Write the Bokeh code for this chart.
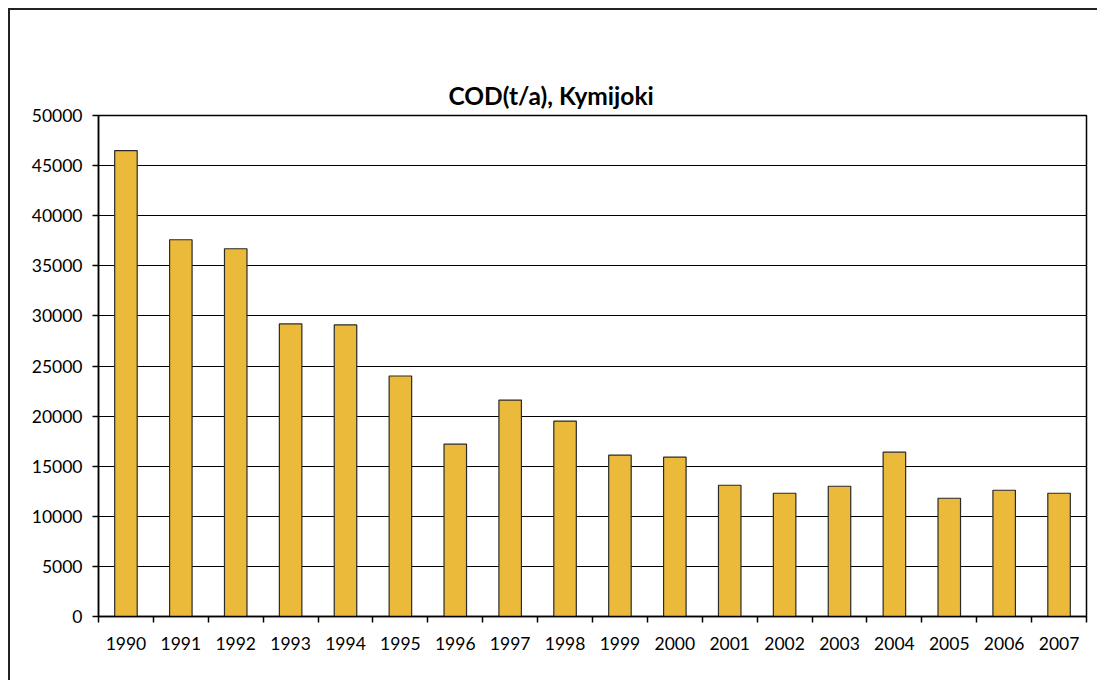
from bokeh.plotting import figure
from bokeh.models import FixedTicker, Range1d, ColumnDataSource
from bokeh.embed import file_html
from bokeh.resources import INLINE

years = ["1990", "1991", "1992", "1993", "1994", "1995", "1996", "1997", "1998",
         "1999", "2000", "2001", "2002", "2003", "2004", "2005", "2006", "2007"]
cod = [46500, 37600, 36700, 29200, 29100, 24000, 17200, 21600, 19500,
       16100, 15900, 13100, 12300, 13000, 16400, 11800, 12600, 12300]
y_ticks = [0, 5000, 10000, 15000, 20000, 25000, 30000, 35000, 40000, 45000, 50000]

xs = list(range(len(years)))
src = ColumnDataSource(dict(x=xs, top=cod, year=years))

FONT = "Lato"

p = figure(width=1089, height=672, output_backend="svg", toolbar_location=None,
           x_range=Range1d(-0.5, len(years) - 0.5), y_range=Range1d(0, 50000),
           title="COD(t/a), Kymijoki",
           min_border_left=88, min_border_right=13, min_border_top=105, min_border_bottom=66)

p.styles = {"border-left": "2px solid #222", "border-top": "2px solid #222",
            "border-right": "none", "border-bottom": "none",
            "box-sizing": "border-box", "margin-left": "8px", "margin-top": "8px"}

p.title.align = "left"
p.title.offset = 350
p.title.standoff = 10
p.title.vertical_align = "middle"
p.title.text_font = FONT
p.title.text_font_size = "24.5px"
p.title.text_font_style = "bold"
p.title.text_color = "black"

p.vbar(x="x", top="top", width=0.41, source=src, fill_color="#EBBA3B",
       line_color="#2a2a2a", line_width=1.2)

p.outline_line_color = "black"
p.outline_line_width = 1.5
p.xgrid.grid_line_color = None
p.ygrid.grid_line_color = "black"
p.ygrid.grid_line_width = 1.2
p.ygrid.ticker = FixedTicker(ticks=y_ticks)

p.yaxis.ticker = FixedTicker(ticks=y_ticks, minor_ticks=[])
p.yaxis.axis_line_color = "black"
p.yaxis.axis_line_width = 1.5
p.yaxis.major_tick_out = 6
p.yaxis.major_tick_in = 0
p.yaxis.major_tick_line_width = 1.5
p.yaxis.minor_tick_line_color = None
p.yaxis.major_label_standoff = 10
p.yaxis.major_label_text_font = FONT
p.yaxis.major_label_text_font_size = "17.5px"
p.yaxis.major_label_text_color = "black"

bounds = [i - 0.5 for i in range(len(years) + 1)]
p.xaxis.ticker = FixedTicker(ticks=xs, minor_ticks=bounds)
p.xaxis.major_label_overrides = {i: y for i, y in zip(xs, years)}
p.xaxis.major_tick_out = 0
p.xaxis.major_tick_in = 0
p.xaxis.minor_tick_out = 6
p.xaxis.minor_tick_in = 0
p.xaxis.minor_tick_line_color = "black"
p.xaxis.minor_tick_line_width = 1.5
p.xaxis.axis_line_color = "black"
p.xaxis.axis_line_width = 1.5
p.xaxis.major_label_standoff = 14
p.xaxis.major_label_text_font = FONT
p.xaxis.major_label_text_font_size = "17.5px"
p.xaxis.major_label_text_color = "black"

open("out.html", "w").write(file_html(p, INLINE))
